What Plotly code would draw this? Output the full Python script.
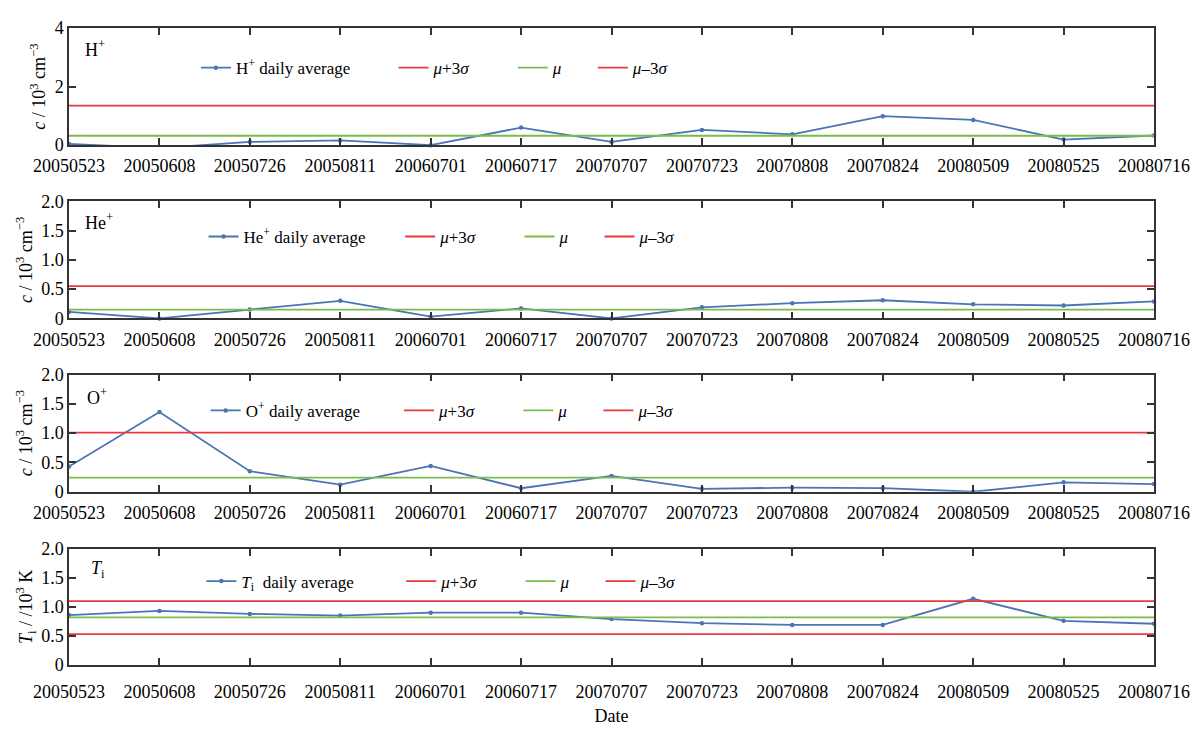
import plotly.graph_objects as go

dates = ["20050523", "20050608", "20050726", "20050811", "20060701", "20060717",
         "20070707", "20070723", "20070808", "20070824", "20080509", "20080525", "20080716"]

h_plus = [0.04, -0.1, 0.11, 0.16, 0.0, 0.6, 0.11, 0.52, 0.37, 0.99, 0.86, 0.19, 0.33]
h_mu, h_up, h_lo = 0.32, 1.35, -0.71

he_plus = [0.11, 0.0, 0.15, 0.30, 0.03, 0.17, 0.0, 0.19, 0.26, 0.31, 0.24, 0.22, 0.29]
he_mu, he_up, he_lo = 0.15, 0.55, -0.25

o_plus = [0.43, 1.36, 0.35, 0.12, 0.44, 0.06, 0.27, 0.05, 0.07, 0.06, 0.0, 0.16, 0.13]
o_mu, o_up, o_lo = 0.24, 1.01, -0.53

ti = [0.86, 0.93, 0.88, 0.85, 0.90, 0.90, 0.79, 0.72, 0.69, 0.69, 1.14, 0.76, 0.71]
ti_mu, ti_up, ti_lo = 0.82, 1.10, 0.53

panel_names = ["H<sup>+</sup>", "He<sup>+</sup>", "O<sup>+</sup>", "<i>T</i><sub>i</sub>"]
series_names = ["H<sup>+</sup> daily average", "He<sup>+</sup> daily average",
                "O<sup>+</sup> daily average", "<i>T</i><sub>i</sub>  daily average"]
y_titles = ["<i>c</i> / 10<sup>3</sup> cm<sup>−3</sup>"] * 3 + ["<i>T</i><sub>i</sub> / /10<sup>3</sup> K"]
up_name = "<i>μ</i>+3<i>σ</i>"
mu_name = "<i>μ</i>"
lo_name = "<i>μ</i>–3<i>σ</i>"

panels = [
    (h_plus, h_mu, h_up, h_lo),
    (he_plus, he_mu, he_up, he_lo),
    (o_plus, o_mu, o_up, o_lo),
    (ti, ti_mu, ti_up, ti_lo),
]

BLUE = "#4a74b4"
RED = "#e8393c"
GREEN = "#7cbc4c"
FONT = "Liberation Serif"
NB = "\u00a0"

domains = [[0.8161, 1.0], [0.5441, 0.7280], [0.2720, 0.4560], [0.0, 0.1824]]
legend_pos = [(0.117, 0.937), (0.124, 0.672), (0.126, 0.399), (0.122, 0.131)]
first_pad = [9, 7, 8, 10]
label_pos = [(0.013, 0.968), (0.013, 0.697), (0.015, 0.422), (0.018, 0.150)]

fig = go.Figure()
for i, (vals, mu, up, lo) in enumerate(panels):
    n = i + 1
    xa = "x" if n == 1 else f"x{n}"
    ya = "y" if n == 1 else f"y{n}"
    lg = "legend" if n == 1 else f"legend{n}"
    fig.add_trace(go.Scatter(x=dates, y=vals, mode="lines+markers",
                             name=series_names[i] + NB * first_pad[i],
                             line=dict(color=BLUE, width=1.8), marker=dict(size=4.5, color=BLUE),
                             xaxis=xa, yaxis=ya, legend=lg, cliponaxis=False))
    fig.add_trace(go.Scatter(x=dates, y=[up] * len(dates), mode="lines", name=up_name + NB * 9,
                             line=dict(color=RED, width=1.8), xaxis=xa, yaxis=ya, legend=lg))
    fig.add_trace(go.Scatter(x=dates, y=[mu] * len(dates), mode="lines", name=mu_name + NB * 6,
                             line=dict(color=GREEN, width=1.8), xaxis=xa, yaxis=ya, legend=lg))
    fig.add_trace(go.Scatter(x=dates, y=[lo] * len(dates), mode="lines", name=lo_name,
                             line=dict(color=RED, width=1.8), xaxis=xa, yaxis=ya, legend=lg))

layout = dict(
    width=1200, height=736,
    margin=dict(l=61, r=54, t=10, b=79),
    paper_bgcolor="white", plot_bgcolor="white",
    font=dict(family=FONT, size=18, color="black"),
    showlegend=True,
)
axis_common = dict(showline=True, linecolor="#333333", linewidth=1.5, mirror="ticks",
                   ticks="inside", ticklen=7, tickcolor="#333333", tickwidth=1.5,
                   showgrid=False, zeroline=False, tickfont=dict(family=FONT, size=18, color="black"))
for i in range(4):
    n = i + 1
    xk = "xaxis" if n == 1 else f"xaxis{n}"
    yk = "yaxis" if n == 1 else f"yaxis{n}"
    ya = "y" if n == 1 else f"y{n}"
    xa = "x" if n == 1 else f"x{n}"
    layout[xk] = dict(axis_common, type="category", categoryorder="array", categoryarray=dates,
                      range=[0, len(dates) - 1], anchor=ya, domain=[0, 1],
                      ticklabelstandoff=(10 if n == 4 else 4))
    if n == 1:
        yax = dict(range=[0, 4], tickvals=[0, 2, 4], ticktext=["0", "2", "4"])
    else:
        yax = dict(range=[0, 2], tickvals=[0, 0.5, 1, 1.5, 2], ticktext=["0", "0.5", "1.0", "1.5", "2.0"])
    layout[yk] = dict(axis_common, anchor=xa, domain=domains[i],
                      title=dict(text=y_titles[i], font=dict(family=FONT, size=18), standoff=4), **yax)
    lk = "legend" if n == 1 else f"legend{n}"
    layout[lk] = dict(orientation="h", x=legend_pos[i][0], y=legend_pos[i][1], xanchor="left",
                      yanchor="middle", bgcolor="rgba(0,0,0,0)", borderwidth=0,
                      font=dict(family=FONT, size=17, color="black"))

layout["xaxis4"]["title"] = dict(text="Date", font=dict(family=FONT, size=18), standoff=8)
fig.update_layout(**layout)

for i in range(4):
    fig.add_annotation(x=label_pos[i][0], y=label_pos[i][1], xref="paper", yref="paper",
                       text=panel_names[i], showarrow=False, xanchor="left", yanchor="middle",
                       font=dict(family=FONT, size=18, color="black"))

fig.write_html("out.html")
